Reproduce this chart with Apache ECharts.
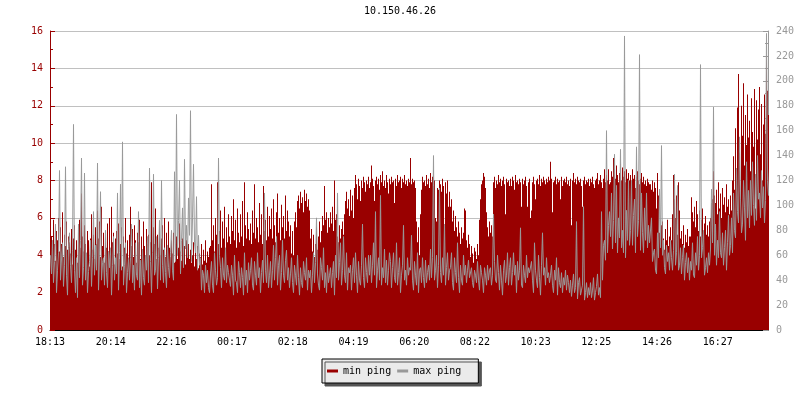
<!DOCTYPE html>
<html>
<head>
<meta charset="utf-8">
<script src="https://cdn.jsdelivr.net/npm/echarts@6/dist/echarts.min.js"></script>
<style>
html,body{margin:0;padding:0;background:#fff;}
#chart{width:800px;height:400px;}
</style>
</head>
<body>
<div id="chart"></div>
<script>
const chartTitle = '10.150.46.26';
const seriesNames = ['min ping', 'max ping'];
const stepMinutes = 2;
const spanMinutes = 1436;
const tickStep = 121.4;
const tickLabels = ['18:13','20:14','22:16','00:17','02:18','04:19','06:20','08:22','10:23','12:25','14:26','16:27'];

// min ping (ms, left axis), one value per 2 minutes
const minPing = [
  6.2,5.0,4.4,5.9,4.6,3.7,5.3,4.8,6.0,4.2,5.5,4.6,6.3,3.9,5.1,4.5,5.8,4.3,5.0,4.7,
  4.1,5.4,3.5,4.9,5.6,4.3,4.8,3.6,5.2,5.9,4.4,7.3,5.0,4.2,5.6,4.6,3.9,5.3,4.8,3.4,
  4.9,6.2,4.3,5.1,3.8,5.5,4.6,6.4,4.9,5.8,3.9,6.6,4.5,5.2,3.6,5.0,4.4,5.7,4.2,6.0,
  4.0,6.6,4.7,5.2,3.5,4.9,5.3,4.1,5.7,3.8,4.6,5.5,3.4,5.0,4.4,6.0,4.1,4.8,3.7,5.1,
  6.6,4.5,5.4,3.9,5.6,4.8,3.6,5.2,4.7,5.9,3.8,5.0,4.3,5.8,4.5,3.9,5.4,4.6,5.1,4.0,
  4.7,7.9,4.2,5.5,4.6,6.5,3.8,5.1,4.4,5.7,4.0,4.9,5.6,4.3,6.0,3.9,5.2,4.5,5.8,4.4,
  3.9,4.8,4.1,5.2,3.6,4.6,5.0,3.8,4.4,5.7,4.2,3.7,4.9,4.0,4.5,3.5,4.8,4.1,4.6,3.8,
  4.3,3.6,4.0,4.7,3.4,4.2,3.8,4.5,3.3,4.1,3.9,4.6,3.5,4.3,3.7,4.8,3.6,4.2,3.9,4.4,
  4.5,7.8,4.8,5.6,4.2,6.0,5.1,7.9,4.6,5.3,6.4,4.4,5.8,4.9,6.6,4.3,5.5,4.7,6.2,5.0,
  4.6,6.1,5.3,7.0,4.8,5.9,4.4,6.5,5.2,4.7,6.2,5.0,6.9,4.5,7.9,5.6,4.9,6.3,5.4,4.8,
  5.7,4.6,6.4,5.2,7.8,4.9,6.0,5.5,4.7,6.8,5.1,6.2,4.6,7.7,5.3,5.9,4.8,6.6,5.0,6.1,
  5.4,6.5,4.9,7.0,5.6,4.7,6.3,7.3,5.2,6.0,4.8,6.7,5.5,6.1,4.9,7.2,5.3,6.4,5.8,5.0,
  5.6,4.1,5.3,4.0,5.8,6.3,5.5,6.9,7.2,6.5,7.4,6.8,7.1,6.3,7.5,6.9,7.3,6.6,7.0,6.4,
  4.9,5.4,4.2,5.1,3.9,4.6,5.5,4.3,5.0,5.8,4.7,5.3,6.1,5.6,7.7,5.9,6.3,5.2,6.0,5.5,
  6.3,5.7,6.6,5.3,8.0,5.9,6.2,5.0,4.7,5.6,4.9,5.4,5.8,5.1,6.2,6.9,7.4,6.5,7.0,6.1,
  7.5,6.4,7.2,6.0,7.6,8.3,7.8,7.0,8.1,7.7,6.9,8.0,7.6,8.2,7.9,7.4,8.0,7.8,8.2,7.6,
  7.9,8.8,8.1,7.7,6.9,8.0,8.2,7.8,8.1,7.5,8.3,7.9,8.5,7.7,8.0,7.6,8.3,7.9,7.3,8.1,
  7.8,8.2,7.9,8.0,6.8,8.1,7.7,8.3,7.9,8.0,8.2,7.6,8.1,7.9,8.3,7.8,8.0,7.7,8.1,7.9,
  9.2,7.8,8.1,7.9,8.0,7.6,5.8,4.7,5.5,4.0,6.2,7.5,8.2,7.9,8.0,7.7,8.3,7.8,8.1,7.6,
  8.4,7.9,8.2,7.7,8.0,6.0,5.8,7.6,7.5,8.0,7.8,7.4,8.1,7.7,5.6,7.9,7.3,8.0,6.6,7.4,
  6.6,7.0,5.8,6.4,5.3,6.1,5.5,5.0,5.8,5.2,4.6,5.5,4.9,5.2,6.5,6.4,4.8,4.4,5.1,4.6,
  3.9,4.5,4.1,3.6,4.4,4.2,3.8,4.6,4.0,5.9,7.0,7.8,8.0,8.4,8.2,7.6,6.3,5.5,5.0,5.8,
  5.2,5.6,5.0,7.9,8.2,7.6,8.0,7.8,8.3,7.9,8.1,7.7,8.0,8.2,7.8,6.2,8.1,7.9,8.0,7.7,
  8.1,7.7,8.2,8.0,7.5,8.3,7.9,8.0,7.8,8.1,7.9,6.6,8.1,7.8,8.0,8.2,7.7,6.6,7.9,8.1,
  6.0,6.4,7.9,8.2,7.8,7.0,8.0,8.1,7.8,8.3,7.7,8.1,7.9,8.2,8.0,7.8,8.1,7.9,8.2,8.0,
  9.0,8.1,6.3,7.9,8.0,8.2,7.8,8.1,7.9,8.0,7.0,8.2,7.7,8.0,8.1,7.9,8.2,7.8,8.0,7.7,
  8.1,5.6,8.0,8.4,7.9,8.1,7.8,8.2,8.0,7.9,8.1,7.7,6.6,8.0,8.2,7.8,8.0,7.9,8.1,7.7,
  8.1,7.9,8.2,7.8,7.6,8.0,8.1,8.4,7.8,8.0,8.3,7.9,7.6,8.1,8.6,7.9,8.3,8.0,8.6,7.8,
  7.9,8.5,8.2,9.2,8.6,8.1,8.8,8.3,7.9,8.4,8.9,8.0,8.7,8.2,8.5,7.9,8.6,8.1,8.4,8.0,
  8.3,7.9,8.6,8.1,8.3,7.6,8.2,8.5,8.0,7.8,8.1,8.4,7.9,8.2,7.8,8.0,7.7,8.1,7.9,7.8,
  7.8,7.5,8.0,7.4,7.9,7.6,6.5,8.4,7.2,5.2,4.6,5.6,5.8,4.9,4.3,5.4,4.8,5.9,4.5,5.0,
  5.5,4.8,6.2,8.3,7.0,6.0,7.2,5.1,7.9,6.4,4.9,5.3,4.6,5.6,4.4,5.1,4.7,5.4,4.5,5.0,
  5.0,7.1,6.3,5.8,6.6,5.5,6.9,6.2,5.3,6.4,5.0,5.9,6.5,5.2,5.7,6.1,5.1,5.6,5.0,5.8,
  6.0,6.8,7.0,8.5,7.2,6.8,7.5,6.2,7.9,6.5,7.3,6.0,7.6,6.7,7.1,6.3,7.8,6.6,7.0,6.2,
  7.2,6.4,8.0,9.3,7.5,10.8,8.2,11.9,13.7,9.5,7.0,12.0,10.4,13.2,8.8,11.5,9.9,12.6,10.3,11.2,
  8.5,12.4,10.6,9.8,12.9,6.5,12.3,10.2,11.8,13.0,9.4,12.1,8.0,11.0,12.6,10.5,14.7,12.8,11.5,13.3
];

// max ping (ms, right axis), one value per 2 minutes
const maxPing = [
  60,45,72,38,55,85,30,48,62,128,40,57,70,35,52,131,44,28,66,78,
  52,38,64,165,48,30,58,26,85,42,72,138,36,50,126,40,62,30,47,55,
  72,35,58,95,44,68,48,134,32,60,111,40,54,58,36,80,46,34,63,50,
  66,28,52,75,40,58,45,110,32,62,117,48,151,36,52,70,30,46,58,40,
  58,85,38,52,32,70,44,40,95,34,56,28,65,42,36,60,48,75,38,130,
  55,30,62,125,44,48,75,33,58,88,40,120,52,38,66,46,34,68,50,42,
  62,80,48,40,127,55,173,60,88,120,45,72,98,50,137,65,84,58,106,76,
  176,55,90,133,70,62,107,48,76,52,58,32,48,44,30,52,38,48,34,30,
  45,55,36,30,62,48,36,42,138,60,50,34,58,44,40,66,38,52,46,40,
  35,52,44,28,60,40,38,30,55,46,34,50,42,28,62,36,48,30,54,40,
  48,58,36,32,55,44,36,62,42,50,30,46,56,38,110,48,38,60,34,44,
  55,34,48,68,40,58,75,36,52,60,32,46,72,44,38,56,64,40,50,34,
  45,58,38,30,52,44,36,60,42,28,50,38,34,55,46,40,58,32,48,42,
  48,30,44,62,38,54,90,45,36,32,58,50,40,66,34,46,30,52,38,44,
  50,34,46,55,28,60,42,110,40,54,70,36,48,75,44,38,62,32,50,46,
  52,32,48,58,38,62,44,30,55,40,36,52,85,42,34,58,46,38,60,44,
  60,38,52,70,44,95,34,48,58,40,108,36,50,42,65,38,56,36,48,62,
  55,34,50,62,42,38,70,36,46,58,30,44,52,84,40,48,36,58,44,50,
  48,76,40,32,55,44,36,62,30,48,50,38,58,42,34,56,38,46,52,40,
  65,42,58,140,40,48,60,34,52,114,46,38,58,44,85,36,50,62,40,48,
  50,62,38,32,58,46,38,70,42,30,52,40,36,60,44,52,38,48,56,42,
  42,50,38,34,48,44,38,55,40,32,52,46,40,30,50,44,36,52,40,48,
  50,36,44,93,55,40,38,60,46,32,52,40,28,48,56,38,44,62,36,50,
  58,36,46,62,44,52,30,55,40,48,82,36,34,52,44,38,60,42,50,46,
  45,55,40,30,70,48,40,34,60,42,28,52,78,44,50,36,58,42,46,38,
  44,52,36,30,48,40,58,28,50,38,34,46,30,42,36,48,32,44,38,30,
  40,27,36,45,30,34,87,25,38,42,28,32,36,99,24,30,38,26,34,28,
  38,26,32,42,24,30,35,45,28,34,26,95,40,68,72,56,160,62,84,95,
  75,110,65,88,141,70,116,62,90,74,145,66,80,62,236,58,96,72,120,68,
  80,120,68,92,105,62,147,75,88,221,64,110,78,62,98,72,110,66,84,70,
  70,90,55,62,65,48,45,78,58,113,66,148,60,72,50,45,68,55,62,48,
  72,58,48,64,125,52,62,116,48,52,66,45,58,68,40,54,62,46,58,40,
  55,48,70,44,42,62,52,75,48,60,213,58,66,80,44,50,58,46,62,52,
  65,113,70,179,60,85,52,72,58,95,62,58,78,52,66,80,48,70,92,60,
  68,90,62,110,80,74,130,95,86,155,105,78,85,120,98,72,135,90,112,82,
  120,92,135,100,84,125,88,140,105,110,90,128,98,115,86,104,238,120,108,130
];

const FONT = 'DejaVu Sans Mono';
const RED = '#990000';
const GRAY = '#999999';

// each sample is placed at the centre of its 2-minute slot
const minData = minPing.map((v, i) => [i * stepMinutes + stepMinutes / 2, v]);
const maxData = maxPing.map((v, i) => [i * stepMinutes + stepMinutes / 2, v]);

const chart = echarts.init(document.getElementById('chart'), null, {renderer: 'canvas'});
chart.setOption({
  animation: false,
  backgroundColor: '#ffffff',
  title: {
    text: chartTitle,
    left: 'center',
    top: 6,
    padding: 0,
    textStyle: {fontFamily: FONT, fontSize: 10, fontWeight: 'normal', color: '#000'}
  },
  legend: {
    data: seriesNames,
    left: 322,
    top: 359,
    icon: 'rect',
    itemWidth: 11,
    itemHeight: 3,
    itemGap: 6,
    padding: [6, 17, 6, 5],
    backgroundColor: '#ebebeb',
    borderColor: '#000',
    borderWidth: 1,
    borderRadius: 0,
    shadowColor: '#555555',
    shadowBlur: 0,
    shadowOffsetX: 3,
    shadowOffsetY: 3,
    textStyle: {fontFamily: FONT, fontSize: 10, color: '#000', lineHeight: 12}
  },
  grid: {left: 50, right: 32, top: 31, bottom: 70, containLabel: false},
  xAxis: {
    type: 'value',
    min: 0,
    max: spanMinutes,
    interval: tickStep,
    axisLine: {show: true, lineStyle: {color: '#000', width: 1}},
    axisTick: {show: true, inside: true, length: 5, lineStyle: {color: '#000'}},
    splitLine: {show: false},
    axisLabel: {
      color: '#000', fontFamily: FONT, fontSize: 10, margin: 7,
      showMaxLabel: false,
      formatter: function (v) {
        const k = Math.round(v / tickStep);
        if (Math.abs(v - k * tickStep) > 0.01) return '';
        return tickLabels[k] || '';
      }
    }
  },
  yAxis: [
    {
      type: 'value', min: 0, max: 16, interval: 2, position: 'left',
      axisLine: {show: true, lineStyle: {color: RED, width: 1}},
      axisTick: {show: true, inside: true, length: 5, lineStyle: {color: RED}},
      minorTick: {show: true, splitNumber: 2, length: 3, lineStyle: {color: RED}},
      splitLine: {show: true, lineStyle: {color: '#c0c0c0', width: 1}},
      axisLabel: {color: RED, fontFamily: FONT, fontSize: 10, margin: 7}
    },
    {
      type: 'value', min: 0, max: 240, interval: 20, position: 'right',
      axisLine: {show: true, lineStyle: {color: GRAY, width: 1}},
      axisTick: {show: true, inside: true, length: 5, lineStyle: {color: GRAY}},
      minorTick: {show: true, splitNumber: 2, length: 3, lineStyle: {color: GRAY}},
      splitLine: {show: false},
      axisLabel: {color: GRAY, fontFamily: FONT, fontSize: 10, margin: 8}
    }
  ],
  series: [
    {
      name: seriesNames[0],
      type: 'bar',
      yAxisIndex: 0,
      barWidth: 1,
      z: 2,
      itemStyle: {color: RED},
      data: minData
    },
    {
      name: seriesNames[1],
      type: 'line',
      step: 'end',
      yAxisIndex: 1,
      symbol: 'none',
      z: 3,
      itemStyle: {color: GRAY},
      lineStyle: {width: 1, color: GRAY},
      data: maxData
    }
  ]
});
</script>
</body>
</html>
